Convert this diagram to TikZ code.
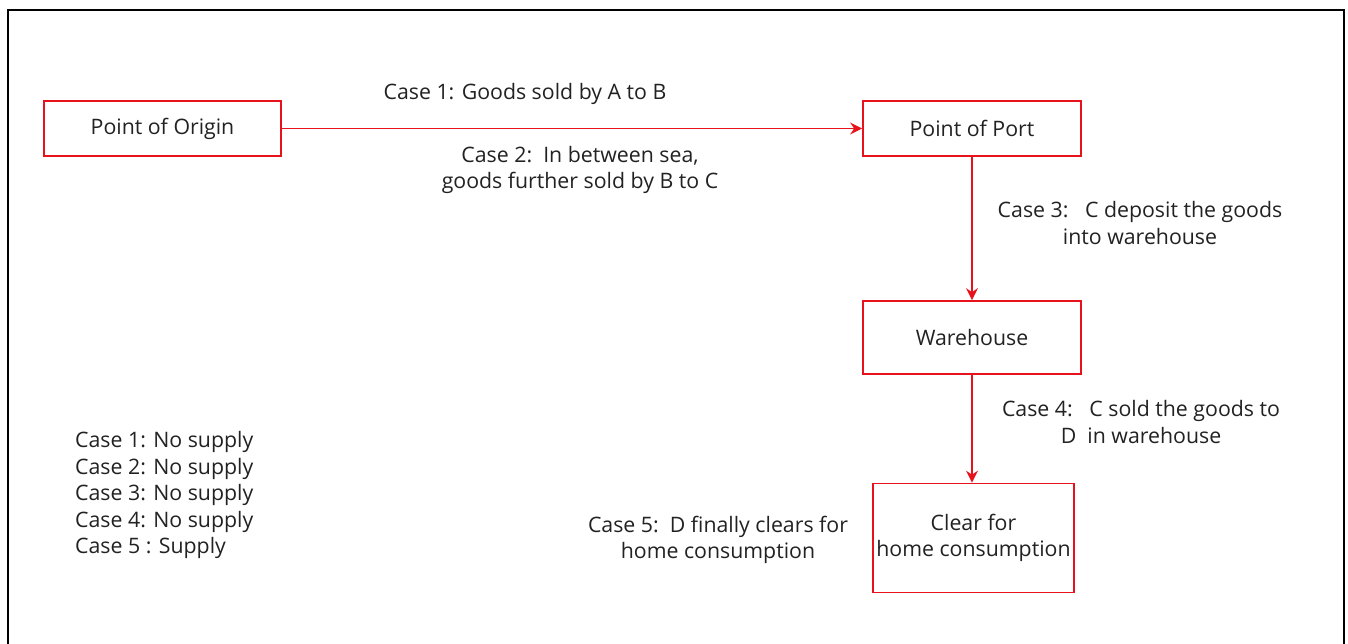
\documentclass[tikz,border=0pt]{standalone}
\usepackage{fontspec}
\setmainfont{Open Sans}
\usetikzlibrary{arrows.meta}
\definecolor{flowred}{HTML}{E8121C}
\definecolor{ink}{HTML}{222222}
\begin{document}
\begin{tikzpicture}[x=1pt,y=-1pt,
  every node/.style={text=ink,font=\fontsize{21.3}{26.5}\selectfont},
  stagebox/.style={draw=flowred,line width=1.7pt,fill=white,inner sep=0pt,align=center},
  flow/.style={draw=flowred,line width=1.5pt,-{Stealth[length=12pt,width=12pt,inset=4pt]}},
  caselabel/.style={align=center,inner sep=0pt}]
\useasboundingbox (0,0) rectangle (1348,644);
\fill[white] (0,0) rectangle (1348,644);
% outer frame, open at the bottom
\draw[line width=1.6pt,black] (8,650) -- (8,10) -- (1344,10) -- (1344,650);

% stages
\node[stagebox,minimum width=237pt,minimum height=55pt] (origin) at (162.5,128.5) {Point of Origin};
\node[stagebox,minimum width=218pt,minimum height=55pt] (port) at (972,128.5) {Point of Port};
\node[stagebox,minimum width=218pt,minimum height=73pt] (warehouse) at (972,337.5) {Warehouse};
\node[stagebox,minimum width=201pt,minimum height=109pt] (clear) at (973.5,538) {Clear for\\home consumption};

% movements of the goods
\draw[flow] (origin.east) -- (port.west);
\draw[flow] (port.south) -- (warehouse.north);
\draw[flow] (warehouse.south) -- (warehouse.south |- clear.north);

% case descriptions
\node[caselabel] (c1) at (525,94) {Case 1: Goods sold by A to B};
\node[caselabel] (c2) at (580,170) {Case 2:\ \ In between sea,\\goods further sold by B to C};
\node[caselabel] (c3) at (1140,223) {Case 3:\ \ \ C deposit the goods\\into warehouse};
\node[caselabel] (c4) at (1141,422) {Case 4:\ \ \ C sold the goods to\\D\ \ in warehouse};
\node[caselabel] (c5) at (718,540) {Case 5:\ \ D finally clears for\\home consumption};

% summary
\node[align=left,inner sep=0pt,anchor=west] (summary) at (75,495)
  {Case 1: No supply\\Case 2: No supply\\Case 3: No supply\\Case 4: No supply\\Case 5 : Supply};
\end{tikzpicture}
\end{document}
